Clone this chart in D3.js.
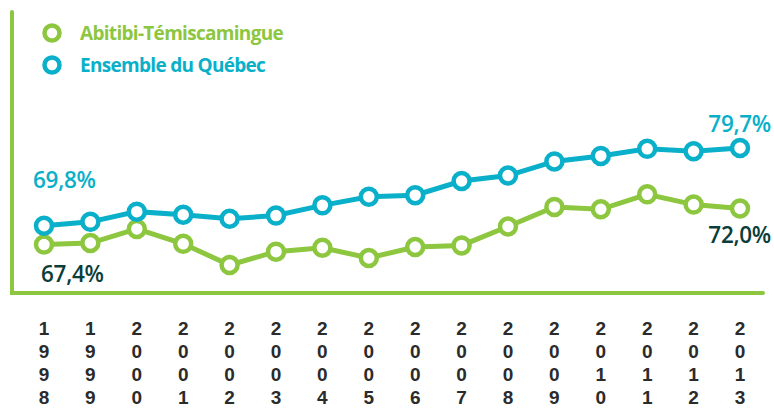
<!DOCTYPE html>
<html>
<head>
	<meta charset="utf-8">
	<title>Abitibi-Témiscamingue vs Québec</title>
	<script src="https://cdn.jsdelivr.net/npm/d3@7"></script>
	<style>
		body { margin: 0; background: #fff; }
		svg { display: block; font-family: "Open Sans", sans-serif; }
	</style>
</head>
<body>
	<svg id="chart" width="774" height="411"></svg>

	<script>
		// data
		var years = [1998, 1999, 2000, 2001, 2002, 2003, 2004, 2005, 2006, 2007, 2008, 2009, 2010, 2011, 2012, 2013];
		var abitibi = [67.4, 67.6, 69.4, 67.5, 64.8, 66.5, 67.0, 65.7, 67.1, 67.3, 69.7, 72.2, 71.9, 73.8, 72.5, 72.0];
		var quebec = [69.8, 70.3, 71.6, 71.2, 70.7, 71.1, 72.4, 73.5, 73.7, 75.5, 76.2, 78.0, 78.7, 79.6, 79.3, 79.7];
		var seriesNames = ['Abitibi-Témiscamingue', 'Ensemble du Québec'];

		var green = '#8dc63f', blue = '#0ab0c9', dark = '#0b3d3a';

		var svg = d3.select('#chart');

		var x = d3.scalePoint()
			.domain(years)
			.range([44, 740]);

		var y = d3.scaleLinear()
			.domain([62, 82])
			.range([287, 130]);

		// green frame on left and bottom
		svg.append('path')
			.attr('d', 'M12,12 V293 H763')
			.attr('fill', 'none')
			.attr('stroke', green)
			.attr('stroke-width', 4)
			.attr('stroke-linecap', 'round');

		// year labels, one digit per row
		var digits = [];
		years.forEach(yr => String(yr).split('').forEach((c, i) => digits.push({ yr: yr, row: i, c: c })));

		svg.selectAll('.digit')
			.data(digits)
			.enter()
			.append('text')
			.attr('class', 'digit')
			.attr('x', d => x(d.yr))
			.attr('y', d => 335 + d.row * 23)
			.attr('text-anchor', 'middle')
			.attr('font-family', '"Liberation Sans", sans-serif')
			.attr('font-size', 19)
			.attr('font-weight', 700)
			.attr('fill', '#2b2b2b')
			.text(d => d.c);

		var line = d3.line()
			.x((d, i) => x(years[i]))
			.y(d => y(d));

		function drawSeries(values, color) {
			svg.append('path')
				.datum(values)
				.attr('fill', 'none')
				.attr('stroke', color)
				.attr('stroke-width', 5)
				.attr('d', line);

			svg.selectAll(null)
				.data(values)
				.enter()
				.append('circle')
				.attr('cx', (d, i) => x(years[i]))
				.attr('cy', d => y(d))
				.attr('r', 8)
				.attr('fill', '#fff')
				.attr('stroke', color)
				.attr('stroke-width', 4.5);
		}

		drawSeries(abitibi, green);
		drawSeries(quebec, blue);

		// value labels
		var fmt = v => v.toFixed(1).replace('.', ',') + '%';
		var labels = [
			{ v: quebec[0], x: 33, y: 188, color: blue },
			{ v: abitibi[0], x: 41, y: 282, color: dark },
			{ v: quebec[quebec.length - 1], x: 771, y: 132, color: blue, anchor: 'end' },
			{ v: abitibi[abitibi.length - 1], x: 771, y: 243, color: dark, anchor: 'end' }
		];
		svg.selectAll('.val')
			.data(labels)
			.enter()
			.append('text')
			.attr('class', 'val')
			.attr('x', d => d.x)
			.attr('y', d => d.y)
			.attr('text-anchor', d => d.anchor || 'start')
			.attr('font-size', 22.5)
			.attr('font-weight', 600)
			.attr('letter-spacing', -0.3)
			.attr('fill', d => d.color)
			.text(d => fmt(d.v));

		// legend
		var legend = svg.selectAll('.legend')
			.data(seriesNames)
			.enter()
			.append('g')
			.attr('class', 'legend')
			.attr('transform', (d, i) => 'translate(52,' + (33 + i * 32) + ')');

		legend.append('circle')
			.attr('r', 7.5)
			.attr('fill', '#fff')
			.attr('stroke', (d, i) => i ? blue : green)
			.attr('stroke-width', 4.5);

		legend.append('text')
			.attr('x', 28)
			.attr('y', 6.5)
			.attr('font-size', 19)
			.attr('font-weight', 700)
			.attr('letter-spacing', -0.7)
			.attr('fill', (d, i) => i ? blue : green)
			.text(d => d);
	</script>
</body>
</html>
